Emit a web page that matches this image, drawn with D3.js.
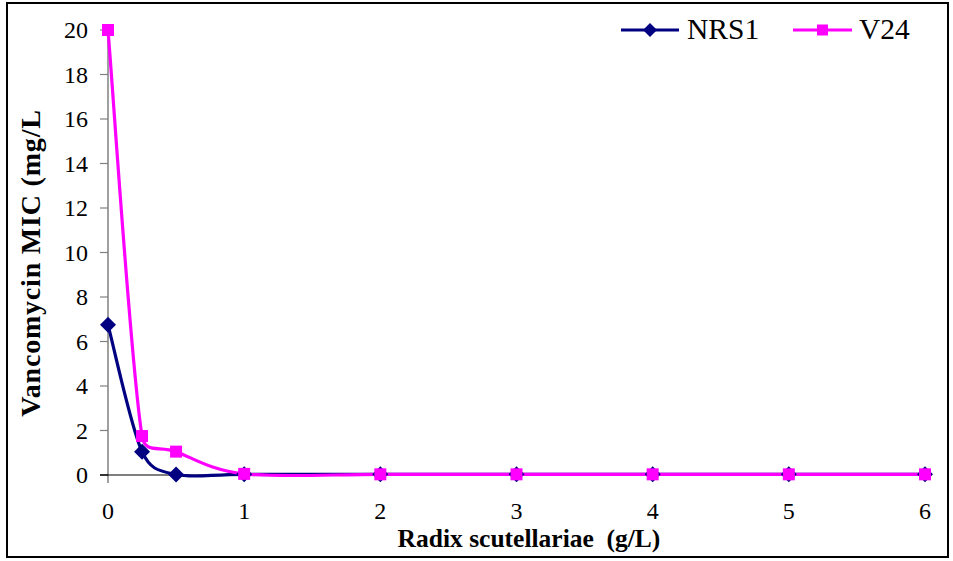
<!DOCTYPE html>
<html><head><meta charset="utf-8">
<script src="https://cdn.jsdelivr.net/npm/d3@7/dist/d3.min.js"></script>
<style>body{margin:0;background:#fff}svg{display:block}svg text{font-family:"Liberation Serif","Times New Roman",Times,serif}</style>
</head><body>
<script>
const xValues = [0, 0.25, 0.5, 1, 2, 3, 4, 5, 6];
const nrs1 = [6.75, 1.05, 0.02, 0.03, 0.03, 0.03, 0.03, 0.03, 0.03];
const v24 = [20, 1.75, 1.05, 0.05, 0.03, 0.03, 0.03, 0.03, 0.03];
const seriesNames = ["NRS1", "V24"];
const xTicks = [0, 1, 2, 3, 4, 5, 6];
const yTicks = [0, 2, 4, 6, 8, 10, 12, 14, 16, 18, 20];

const W = 953, H = 561;
const svg = d3.select("body").append("svg").attr("width", W).attr("height", H);
svg.append("rect").attr("x", 7).attr("y", 3).attr("width", 941).attr("height", 554)
  .attr("fill", "#fff").attr("stroke", "#000").attr("stroke-width", 2);

const x = d3.scaleLinear().domain([0, 6]).range([108, 925]);
const y = d3.scaleLinear().domain([0, 20]).range([475, 30]);

// y axis
svg.append("line").attr("x1", x(0)).attr("x2", x(0)).attr("y1", y(20)).attr("y2", 483)
  .attr("stroke", "#808080").attr("stroke-width", 1.5);
const yg = svg.append("g");
yTicks.forEach(t => {
  yg.append("line").attr("x1", x(0) - 8).attr("x2", x(0)).attr("y1", y(t)).attr("y2", y(t))
    .attr("stroke", t === 0 ? "#000" : "#808080").attr("stroke-width", 1.2);
  yg.append("text").attr("x", x(0) - 20).attr("y", y(t)).attr("dy", "0.35em")
    .attr("text-anchor", "end").attr("font-size", 24).text(t);
});
// x axis line at 0
svg.append("line").attr("x1", x(0) - 8).attr("x2", x(6)).attr("y1", y(0)).attr("y2", y(0))
  .attr("stroke", "#000").attr("stroke-width", 1.2);
xTicks.forEach(t => {
  svg.append("text").attr("x", x(t)).attr("y", 519).attr("text-anchor", "middle")
    .attr("font-size", 24).text(t);
});

// titles
svg.append("text").attr("x", 529).attr("y", 547).attr("text-anchor", "middle")
  .attr("font-size", 25.5).attr("font-weight", "bold")
  .style("white-space", "pre").text("Radix scutellariae  (g/L)");
svg.append("text").attr("transform", "translate(40,263) rotate(-90)").attr("text-anchor", "middle")
  .attr("font-size", 28).attr("font-weight", "bold").attr("letter-spacing", 0.8)
  .text("Vancomycin MIC (mg/L");

// Excel-style smoothed Bezier path
function smoothPath(pts) {
  const p = d3.path();
  const dist = (a, b) => Math.hypot(b[0] - a[0], b[1] - a[1]);
  p.moveTo(pts[0][0], pts[0][1]);
  for (let i = 0; i < pts.length - 1; i++) {
    const P0 = pts[Math.max(i - 1, 0)], P1 = pts[i], P2 = pts[i + 1], P3 = pts[Math.min(i + 2, pts.length - 1)];
    const d02 = dist(P0, P2), d12 = dist(P1, P2), d13 = dist(P1, P3);
    const f = (d02 / 6 < d12 / 2) ? 1 / 6 : (d12 / 2) / d02;
    const g = (d13 / 6 < d12 / 2) ? 1 / 6 : (d12 / 2) / d13;
    p.bezierCurveTo(
      P1[0] + f * (P2[0] - P0[0]), P1[1] + f * (P2[1] - P0[1]),
      P2[0] - g * (P3[0] - P1[0]), P2[1] - g * (P3[1] - P1[1]),
      P2[0], P2[1]);
  }
  return p.toString();
}

const colors = ["#000080", "#FF00FF"];
const data = [nrs1, v24];
data.forEach((vals, i) => {
  const pts = xValues.map((xv, j) => [x(xv), y(vals[j])]);
  svg.append("path").attr("d", smoothPath(pts)).attr("fill", "none")
    .attr("stroke", colors[i]).attr("stroke-width", 3.2).attr("stroke-linejoin", "round");
});
// markers
const diamond = (cx, cy, r) => `M${cx},${cy - r}L${cx + r},${cy}L${cx},${cy + r}L${cx - r},${cy}Z`;
xValues.forEach((xv, j) => {
  svg.append("path").attr("d", diamond(x(xv), y(nrs1[j]), 8)).attr("fill", colors[0]);
});
xValues.forEach((xv, j) => {
  svg.append("rect").attr("x", x(xv) - 6).attr("y", y(v24[j]) - 6).attr("width", 12).attr("height", 12)
    .attr("fill", colors[1]);
});

// legend
const leg = [{x1: 621, x2: 679, tx: 687}, {x1: 793, x2: 852, tx: 859}];
leg.forEach((l, i) => {
  svg.append("line").attr("x1", l.x1).attr("x2", l.x2).attr("y1", 30).attr("y2", 30)
    .attr("stroke", colors[i]).attr("stroke-width", 3.2);
  const cx = (l.x1 + l.x2) / 2;
  if (i === 0) svg.append("path").attr("d", diamond(cx, 30, 7)).attr("fill", colors[0]);
  else svg.append("rect").attr("x", cx - 5.5).attr("y", 24.5).attr("width", 11).attr("height", 11).attr("fill", colors[1]);
  svg.append("text").attr("x", l.tx).attr("y", 39)
    .attr("font-size", 29.5).text(seriesNames[i]);
});
</script>
</body></html>
